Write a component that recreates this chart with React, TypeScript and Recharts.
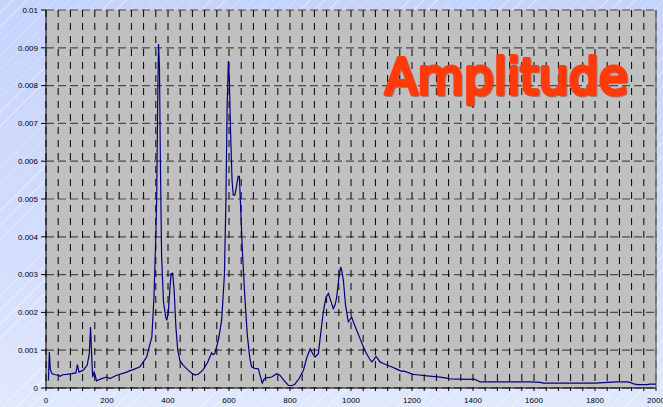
import { LineChart, Line, XAxis, YAxis, CartesianGrid, ReferenceLine } from 'recharts';

// frequency values
const freq = [
  8, 11, 14, 19, 30, 40, 46, 55, 68, 85, 98, 103, 108, 122, 135, 142, 146, 150, 153, 158,
  166, 180, 199, 210, 230, 265, 275, 290, 308, 319, 330, 341, 347, 354, 360, 363, 366, 369, 372, 375,
  379, 385, 392, 396, 401, 406, 410, 415, 420, 426, 432, 439, 450, 465, 480, 489, 500, 515, 530, 543,
  549, 554, 566, 576, 585, 590, 594, 598, 601, 605, 610, 614, 619, 624, 630, 634, 638, 644, 652, 660,
  668, 674, 684, 696, 703, 709, 716, 723, 740, 756, 767, 780, 795, 805, 816, 830, 844, 855, 866, 875,
  882, 893, 900, 909, 918, 926, 934, 942, 948, 953, 960, 966, 970, 975, 982, 991, 996, 1002, 1010, 1020,
  1030, 1045, 1060, 1068, 1074, 1082, 1095, 1106, 1130, 1150, 1166, 1172, 1204, 1215, 1250, 1292, 1314, 1325, 1390, 1401,
  1415, 1423, 1434, 1521, 1587, 1620, 1630, 1700, 1800, 1871, 1905, 1915, 1930, 1942, 1970, 1980, 2000,
];

const amplitude = [
  0.0002, 0.00095, 0.0005, 0.00038, 0.00035, 0.00034, 0.00031, 0.00035, 0.00036, 0.00038, 0.0004, 0.00062, 0.00042, 0.00047, 0.0006, 0.00091, 0.00161, 0.0008, 0.00029, 0.00042,
  0.00019, 0.00024, 0.00029, 0.00025, 0.00033, 0.00042, 0.00046, 0.0005, 0.00056, 0.00069, 0.00082, 0.00117, 0.00135, 0.0024, 0.004, 0.00505, 0.0075, 0.0091, 0.0085, 0.006,
  0.0035, 0.0023, 0.0019, 0.00179, 0.002, 0.0026, 0.00302, 0.00304, 0.0026, 0.0016, 0.001, 0.00073, 0.0006, 0.00048, 0.00038, 0.00034, 0.00037, 0.00048, 0.00068, 0.00093,
  0.00088, 0.00092, 0.0013, 0.0018, 0.003, 0.005, 0.0075, 0.00865, 0.0082, 0.0068, 0.0055, 0.0051, 0.0051, 0.0053, 0.0056, 0.0056, 0.0048, 0.0036, 0.0024, 0.0014,
  0.0008, 0.00056, 0.00052, 0.00051, 0.0003, 0.00013, 0.00025, 0.00027, 0.00029, 0.00038, 0.00034, 0.0002, 0.00007, 0.00006, 0.0001, 0.00025, 0.00047, 0.0008, 0.00104, 0.0009,
  0.00082, 0.00091, 0.0014, 0.002, 0.0024, 0.0025, 0.0023, 0.0021, 0.0022, 0.0024, 0.0029, 0.0032, 0.0031, 0.00285, 0.0022, 0.00175, 0.0018, 0.00188, 0.0017, 0.0015,
  0.0013, 0.001, 0.00078, 0.00069, 0.00074, 0.00084, 0.00069, 0.00065, 0.00057, 0.0005, 0.00044, 0.00045, 0.00036, 0.00035, 0.00032, 0.00029, 0.00026, 0.00024, 0.00023, 0.00024,
  0.0002, 0.00016, 0.00016, 0.00016, 0.00016, 0.00015, 0.00013, 0.00013, 0.00013, 0.00016, 0.00016, 0.00015, 0.0001, 0.00009, 0.00009, 0.0001, 0.0001,
];

const yTicks = [0, 0.001, 0.002, 0.003, 0.004, 0.005, 0.006, 0.007, 0.008, 0.009, 0.01];
const xLabels = [0, 200, 400, 600, 800, 1000, 1200, 1400, 1600, 1800, 2000];
// grid / minor tick every 40
const xTicks = Array.from({ length: 51 }, (_, i) => i * 40);

const data = freq.map((f, i) => ({ f, a: amplitude[i] }));

const tickStyle = { fontSize: 8, fill: '#000', fontFamily: '"Liberation Sans", Arial, sans-serif' };

export default function App() {
  return (
    <div
      style={{
        position: 'absolute',
        left: 0,
        top: 0,
        width: 663,
        height: 407,
        background:
          'repeating-linear-gradient(135deg, rgba(255,255,255,0) 0px, rgba(255,255,255,0) 9px, rgba(255,255,255,0.35) 9px, rgba(255,255,255,0.35) 10px), linear-gradient(180deg, #c6d3fb 0%, #d3ddfc 60%, #e0e8fc 100%)',
      }}
    >
      <LineChart width={663} height={407} data={data} margin={{ top: 10, right: 7, left: 0, bottom: 0 }}>
        <CartesianGrid
          horizontal={true}
          vertical={false}
          fill="#c0c0c0"
          fillOpacity={1}
          stroke="#4a4a4a"
          strokeWidth={1.2}
          strokeDasharray="8 4"
        />
        <CartesianGrid horizontal={false} vertical={true} stroke="#000" strokeDasharray="7 6" />
        <XAxis
          dataKey="f"
          type="number"
          domain={[0, 2000]}
          ticks={xTicks}
          interval={0}
          tickFormatter={(v: number) => (xLabels.includes(v) ? String(v) : '')}
          height={19}
          tickSize={3}
          tickMargin={6}
          tick={tickStyle}
          stroke="#000"
        />
        <YAxis
          type="number"
          domain={[0, 0.01]}
          ticks={yTicks}
          interval={0}
          width={46}
          tickSize={5}
          tickMargin={3}
          tick={tickStyle}
          stroke="#000"
        />
        <ReferenceLine x={2000} stroke="#777" strokeWidth={1.5} />
        <Line
          type="linear"
          dataKey="a"
          stroke="#000080"
          strokeWidth={1.2}
          dot={false}
          isAnimationActive={false}
        />
      </LineChart>
      <svg width={663} height={407} style={{ position: 'absolute', left: 0, top: 0, pointerEvents: 'none' }}>
        <text
          x={385}
          y={94}
          fontSize={49}
          fontFamily='"Comic Sans MS", "DejaVu Sans", sans-serif'
          textLength={243}
          lengthAdjust="spacingAndGlyphs"
          fill="#ff3a0a"
          stroke="#ff3a0a"
          strokeWidth={4}
          strokeLinejoin="round"
          strokeLinecap="round"
          style={{ filter: 'drop-shadow(1px 1px 0.5px rgba(120,20,0,0.4))' }}
        >
          Amplitude
        </text>
      </svg>
    </div>
  );
}
